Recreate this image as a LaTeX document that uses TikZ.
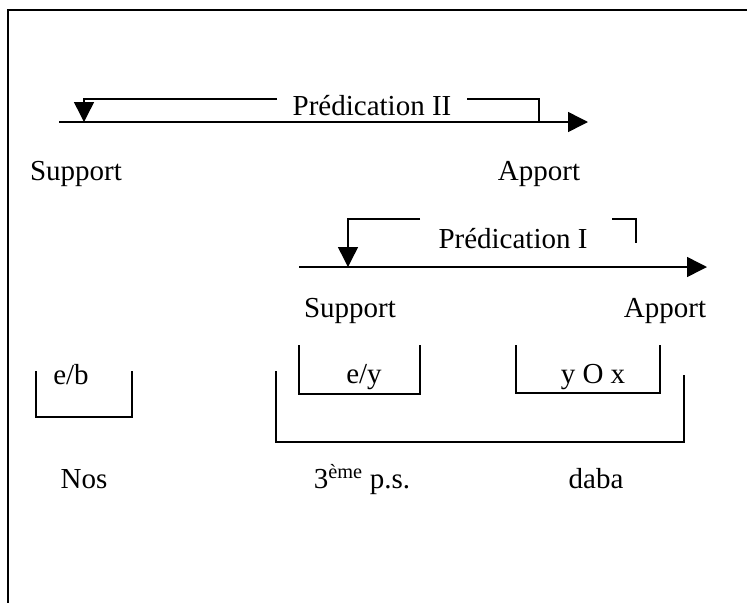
\documentclass[tikz,border=0pt]{standalone}
\usepackage{fontspec}
\setmainfont{Liberation Serif}
\usetikzlibrary{arrows.meta}
\begin{document}
\begin{tikzpicture}[x=1pt,y=-1pt,
  lbl/.style={font=\fontsize{29}{34}\selectfont, inner sep=0pt, anchor=base},
  ln/.style={line width=1.5pt},
  arr/.style={ln, -{Triangle[length=20pt,width=20pt]}},
  frameline/.style={line width=2pt}
]
\useasboundingbox (0,0) rectangle (747,603);
\draw[frameline] (747,10) -- (8,10) -- (8,603);

% Predication II
\coordinate (s2) at (59,122);
\coordinate (e2) at (588,122);
\draw[arr] (s2) -- (e2);
\node[lbl] (p2) at (372,115) {Prédication II};
\coordinate (p2l) at (277,99);
\coordinate (p2k) at (84,99);
\coordinate (p2d) at (84,122);
\coordinate (p2r) at (467,99);
\coordinate (p2c) at (539,99);
\coordinate (p2e) at (539,122);
\draw[arr] (p2l) -- (p2k) -- (p2d);
\draw[ln] (p2r) -- (p2c) -- (p2e);
\node[lbl] (sup2) at (76,180) {Support};
\node[lbl] (app2) at (539,180) {Apport};

% Predication I
\coordinate (s1) at (299,267);
\coordinate (e1) at (707,267);
\draw[arr] (s1) -- (e1);
\node[lbl] (p1) at (513,248) {Prédication I};
\coordinate (p1l) at (420,219);
\coordinate (p1k) at (348,219);
\coordinate (p1d) at (348,267);
\coordinate (p1r) at (612,219);
\coordinate (p1c) at (636,219);
\coordinate (p1e) at (636,243);
\draw[arr] (p1l) -- (p1k) -- (p1d);
\draw[ln] (p1r) -- (p1c) -- (p1e);
\node[lbl] (sup1) at (350,317) {Support};
\node[lbl] (app1) at (665,317) {Apport};

% boxes
\draw[ln] (36,371) -- (36,417) -- (132,417) -- (132,371);
\node[lbl] (eb) at (71,384) {e/b};
\draw[ln] (299,345) -- (299,394) -- (420,394) -- (420,345);
\node[lbl] (ey) at (364,383) {e/y};
\draw[ln] (516,345) -- (516,393) -- (660,393) -- (660,345);
\node[lbl] (yox) at (593,383) {y O x};
\draw[ln] (276,371) -- (276,442) -- (684,442) -- (684,375);

\node[lbl] (nos) at (84,488) {Nos};
\node[lbl] (ps) at (362,488) {3\textsuperscript{ème} p.s.};
\node[lbl] (daba) at (596,488) {daba};
\end{tikzpicture}
\end{document}
